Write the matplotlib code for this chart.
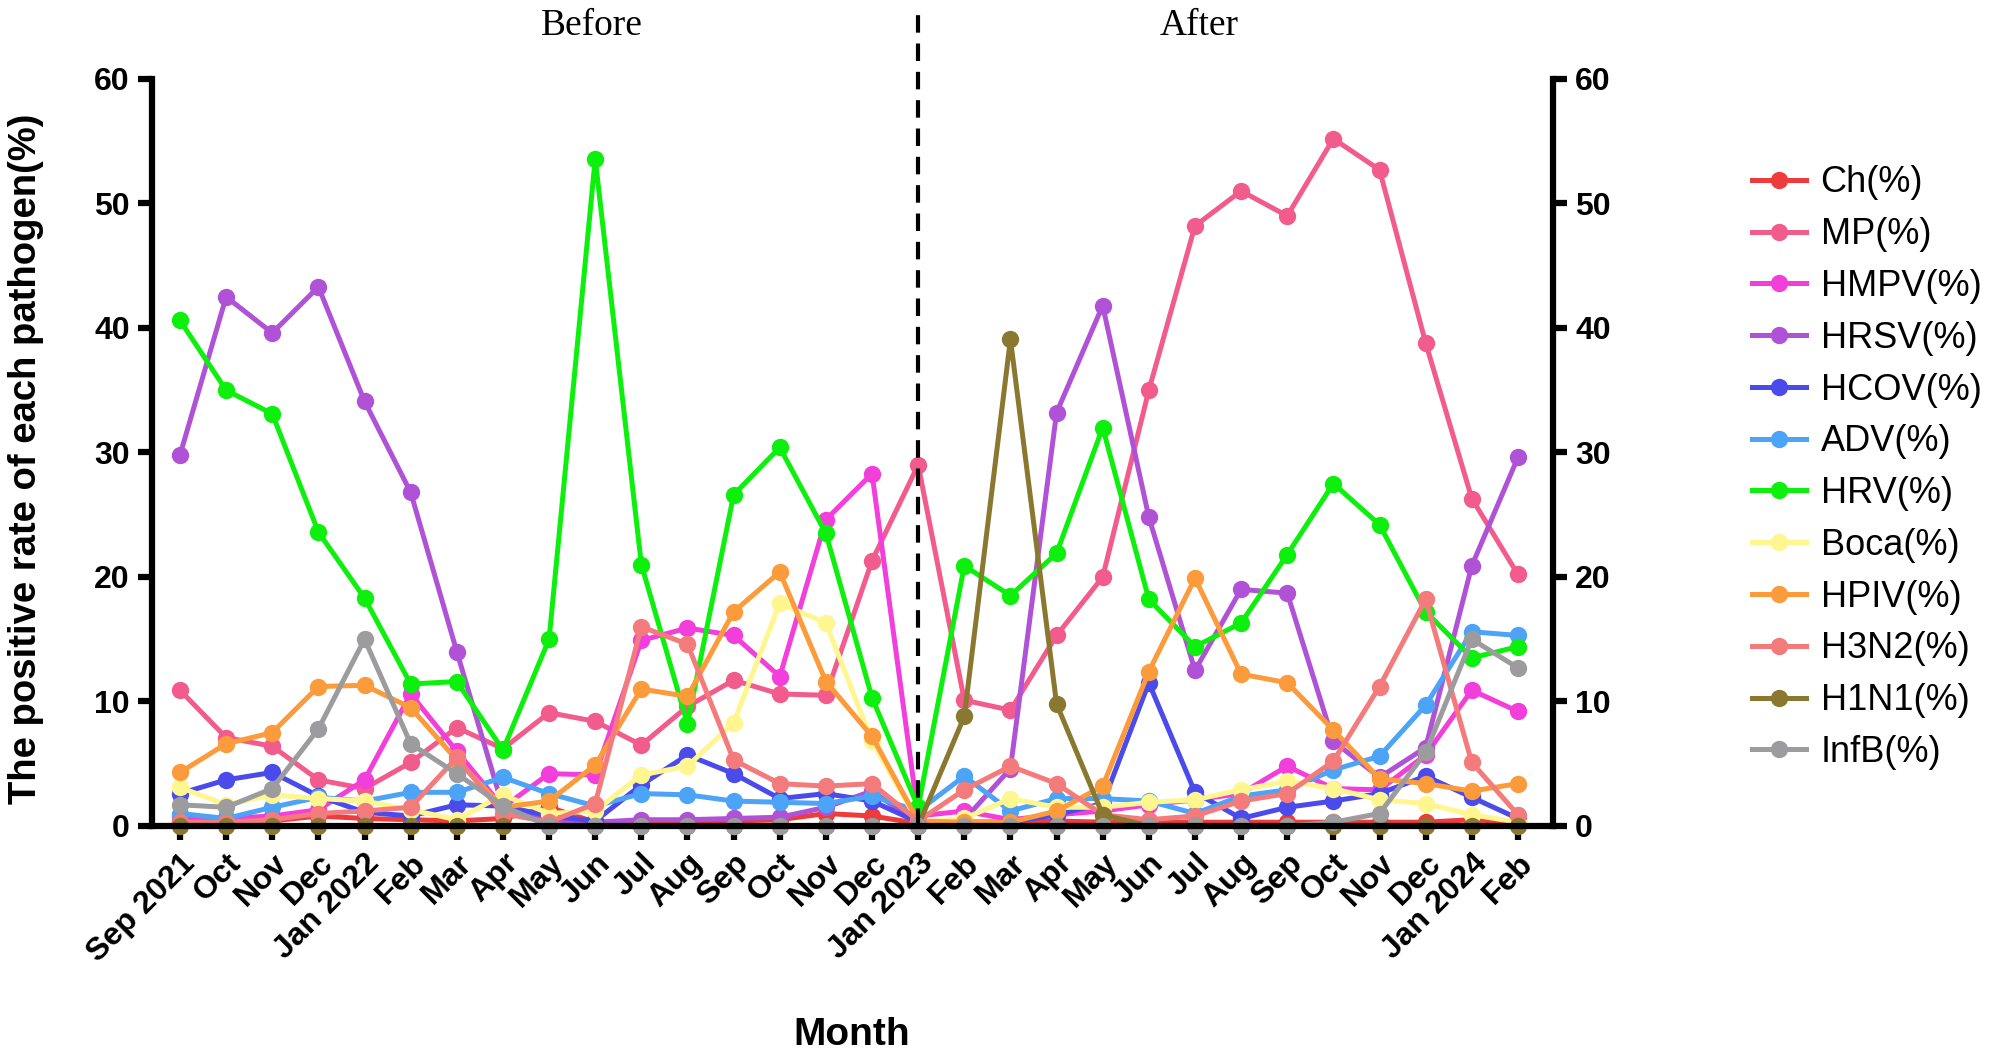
import matplotlib
matplotlib.use("Agg")
import matplotlib.pyplot as plt

months = ["Sep 2021", "Oct", "Nov", "Dec", "Jan 2022", "Feb", "Mar", "Apr", "May", "Jun",
          "Jul", "Aug", "Sep", "Oct", "Nov", "Dec", "Jan 2023", "Feb", "Mar", "Apr",
          "May", "Jun", "Jul", "Aug", "Sep", "Oct", "Nov", "Dec", "Jan 2024", "Feb"]

ch = [0.3, 0.4, 0.4, 0.8, 0.6, 0.5, 0.4, 0.6, 1.5, 0.3, 0.3, 0.3, 0.4, 0.5, 1.0, 0.8, 0.2, 0.3,
      0.3, 0.4, 0.3, 0.3, 0.3, 0.3, 0.3, 0.3, 0.3, 0.3, 0.5, 0.3]
mp = [10.9, 7.1, 6.4, 3.7, 3.0, 5.1, 7.9, 6.2, 9.1, 8.4, 6.5, 9.6, 11.7, 10.6, 10.5, 21.3, 29.0,
      10.1, 9.3, 15.3, 20.0, 35.0, 48.2, 51.0, 49.0, 55.2, 52.7, 38.8, 26.3, 20.2]
hmpv = [0.7, 0.6, 0.8, 1.3, 3.7, 10.6, 6.0, 1.5, 4.2, 4.1, 14.9, 15.9, 15.3, 12.0, 24.6, 28.3,
        0.8, 1.2, 0.5, 0.9, 1.2, 1.7, 2.1, 2.6, 4.8, 3.0, 2.9, 5.7, 10.9, 9.2]
hrsv = [29.8, 42.5, 39.6, 43.3, 34.1, 26.8, 14.0, 1.5, 0.5, 0.3, 0.5, 0.5, 0.6, 0.7, 1.5, 2.8,
        0.2, 0.5, 4.6, 33.2, 41.8, 24.8, 12.5, 19.0, 18.7, 6.8, 3.9, 6.3, 20.9, 29.6]
hcov = [2.6, 3.7, 4.3, 2.4, 1.1, 0.8, 1.7, 1.6, 0.8, 0.4, 3.3, 5.7, 4.2, 2.2, 2.6, 2.0, 0.3, 0.3,
        0.3, 0.9, 1.8, 11.5, 2.7, 0.6, 1.5, 2.0, 2.6, 4.0, 2.3, 0.6]
adv = [1.0, 0.6, 1.5, 2.3, 2.0, 2.7, 2.7, 3.9, 2.6, 1.6, 2.6, 2.5, 2.0, 1.9, 1.8, 2.4, 1.2, 4.0,
       1.2, 2.2, 2.2, 2.0, 1.0, 2.4, 2.9, 4.5, 5.6, 9.7, 15.6, 15.3]
hrv = [40.6, 35.0, 33.1, 23.6, 18.3, 11.4, 11.6, 6.1, 15.0, 53.6, 21.0, 8.2, 26.6, 30.4, 23.5,
       10.3, 1.5, 20.9, 18.5, 21.9, 32.0, 18.2, 14.4, 16.3, 21.8, 27.5, 24.2, 17.2, 13.5, 14.4]
boca = [3.1, 1.7, 2.5, 2.2, 2.0, 1.3, 0.5, 2.5, 1.0, 1.2, 4.1, 4.8, 8.3, 17.9, 16.3, 6.8, 0.3,
        0.6, 2.2, 1.5, 1.5, 1.9, 2.1, 2.9, 3.6, 3.0, 2.1, 1.8, 0.9, 0.3]
hpiv = [4.3, 6.6, 7.5, 11.2, 11.3, 9.5, 5.3, 1.5, 2.0, 4.9, 11.0, 10.4, 17.2, 20.4, 11.6, 7.2,
        0.4, 0.3, 0.3, 1.2, 3.2, 12.4, 19.9, 12.2, 11.5, 7.7, 3.8, 3.4, 2.8, 3.4]
h3n2 = [0.3, 0.3, 0.5, 1.0, 1.2, 1.5, 5.5, 1.0, 0.3, 1.8, 16.0, 14.6, 5.3, 3.4, 3.2, 3.4, 0.4,
        2.9, 4.8, 3.4, 0.9, 0.5, 0.8, 2.0, 2.6, 5.2, 11.2, 18.2, 5.1, 0.9]
h1n1 = [0, 0, 0, 0, 0, 0, 0, 0, 0, 0, 0, 0, 0, 0, 0, 0, 0, 8.8, 39.1, 9.8, 0.9, 0, 0, 0, 0, 0,
        0, 0, 0, 0]
infb = [1.7, 1.5, 3.0, 7.8, 15.0, 6.6, 4.2, 1.6, 0, 0, 0, 0, 0, 0, 0, 0, 0, 0, 0, 0, 0, 0, 0,
        0, 0, 0.3, 1.0, 5.9, 15.0, 12.7]

series_names = ["Ch(%)", "MP(%)", "HMPV(%)", "HRSV(%)", "HCOV(%)", "ADV(%)", "HRV(%)",
                "Boca(%)", "HPIV(%)", "H3N2(%)", "H1N1(%)", "InfB(%)"]
series_values = [ch, mp, hmpv, hrsv, hcov, adv, hrv, boca, hpiv, h3n2, h1n1, infb]
colors = ["#EE3B3B", "#F25C8C", "#F23EDB", "#B052D6", "#4B4BEB", "#4DA3F5", "#0DF00D",
          "#FFF68F", "#FB9B3C", "#F47B7B", "#8A7830", "#9C9C9E"]

split_index = 16
y_ticks = [0, 10, 20, 30, 40, 50, 60]

sans = ["Liberation Sans", "DejaVu Sans"]
serif = ["Liberation Serif", "DejaVu Serif"]

fig = plt.figure(figsize=(20.08, 10.60), dpi=100)
ax = fig.add_axes([0.0757, 0.2208, 0.6977, 0.7047])

x = list(range(len(months)))
for name, vals, col in zip(series_names, series_values, colors):
    ax.plot(x, vals, color=col, lw=3.6, marker="o", markersize=12.5,
            markeredgewidth=0, label=name, clip_on=False, solid_joinstyle="round")

ax.set_xlim(-0.607, 29.76)
ax.set_ylim(0, 60)

# dividing dashed line
ax.plot([split_index, split_index], [0, 65.3], color="black", lw=3.0,
        ls=(0, (4.2, 2.6)), clip_on=False, zorder=5)

for s in ["left", "right", "bottom"]:
    ax.spines[s].set_linewidth(4.5)
ax.spines["top"].set_visible(False)

ax.set_xticks(x)
ax.set_xticklabels(months, rotation=45, ha="right", rotation_mode="anchor",
                   fontsize=23, fontweight="bold", family=sans)
ax.set_yticks(y_ticks)
ax.set_yticklabels([str(v) for v in y_ticks], fontsize=23, fontweight="bold", family=sans)
ax.tick_params(axis="both", which="major", direction="out", length=10, width=4.5, pad=6)
ax.tick_params(axis="y", right=True, labelright=True)
for t in ax.yaxis.get_ticklabels():
    t.set_fontweight("bold")
    t.set_family(sans)

fig.text(0.013, 0.5676, "The positive rate of each pathogen(%)", rotation=90,
         ha="center", va="center", fontsize=27.5, fontweight="bold", family=sans)
fig.text(0.4243, 0.024, "Month", ha="center", va="center", fontsize=28,
         fontweight="bold", family=sans)
fig.text(0.2948, 0.976, "Before", ha="center", va="center", fontsize=27, family=serif)
fig.text(0.5971, 0.976, "After", ha="center", va="center", fontsize=27, family=serif)

leg = fig.legend(loc="upper left", bbox_to_anchor=(0.8725, 0.844), frameon=False,
                 prop={"family": sans, "size": 26}, handlelength=1.5,
                 handletextpad=0.4, labelspacing=0.465, borderpad=0, borderaxespad=0)

fig.savefig("out.png", dpi=100, facecolor="white")
